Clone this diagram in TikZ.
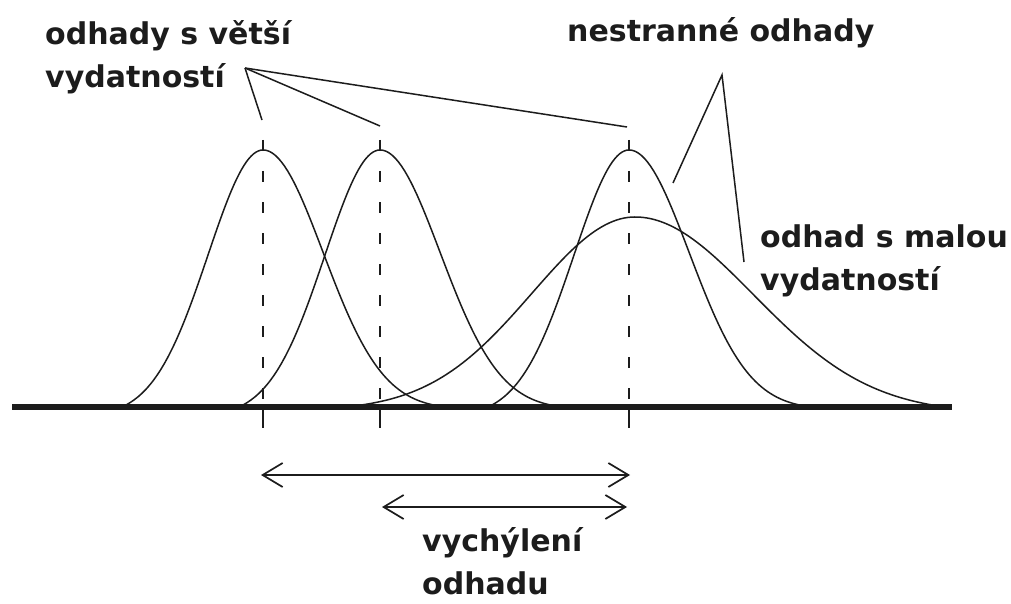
\documentclass[tikz,border=0pt]{standalone}
\usepackage{fontspec}
\setmainfont{DejaVu Sans}
\usetikzlibrary{arrows.meta}
\definecolor{inkgray}{RGB}{28,28,28}

\tikzset{
  lbltext/.style={font=\bfseries\fontsize{30}{43}\selectfont, text=inkgray, align=left, anchor=base west, inner sep=0pt},
  curveline/.style={inkgray, line width=1.5pt},
  guideline/.style={inkgray, line width=1.4pt, dash pattern=on 11pt off 20pt},
  leaderline/.style={inkgray, line width=1.5pt},
  spanarrow/.style={inkgray, line width=1.7pt, {Straight Barb[length=20pt,width=24pt]}-{Straight Barb[length=20pt,width=24pt]}},
}

\begin{document}
\begin{tikzpicture}[x=1pt, y=-1pt,
    declare function={bump(\t,\a)=(exp(-0.5*(\t)^2)-exp(-0.5*(\a)^2))/(1-exp(-0.5*(\a)^2));}]
    \fill[white] (0,0) rectangle (1011,604);
    \useasboundingbox (0,0) rectangle (1011,604);

    % Narrow estimators and guide lines
    \foreach \c in {263,380,629} {
        \draw[curveline] plot[domain=-141:0, samples=60] ({\c+\x}, {407-257*bump(\x/55,141/55)})
            -- plot[domain=0:182, samples=60] ({\c+\x}, {407-257*bump(\x/60,182/60)});
        \draw[guideline] (\c,140) -- (\c,407);
        \draw[curveline] (\c,407) -- (\c,428);
    }

    % Wide estimator
    \draw[curveline] plot[domain=-290:0, samples=80] ({635+\x}, {407-190*bump(\x/103,290/103)})
        -- plot[domain=0:310, samples=80] ({635+\x}, {407-190*bump(\x/118,310/118)});

    % Axis
    \draw[inkgray, line width=6pt] (12,407) -- (952,407);

    % Labels
    \node[lbltext] (effhigh) at (45,88) {odhady s větší\\vydatností};
    \node[lbltext] (unbiased) at (567,42) {nestranné odhady};
    \node[lbltext] (efflow) at (760,290) {odhad s malou\\vydatností};
    \node[lbltext] (bias) at (422,594) {vychýlení\\odhadu};

    % Leader lines
    \coordinate (effapex) at (245,68);
    \coordinate (peakA) at (262,120);
    \coordinate (peakB) at (380,126);
    \coordinate (peakC) at (627,127);
    \coordinate (unbapex) at (722,75);
    \coordinate (narrowC) at (673,183);
    \coordinate (wideC) at (744,262);
    \foreach \p in {peakA,peakB,peakC}
        \draw[leaderline] (effapex) -- (\p);
    \draw[leaderline] (narrowC) -- (unbapex) -- (wideC);

    % Bias spans
    \coordinate (spanAl) at (261,475);
    \coordinate (spanAr) at (630,475);
    \coordinate (spanBl) at (382,507);
    \coordinate (spanBr) at (627,507);
    \draw[spanarrow] (spanAl) -- (spanAr);
    \draw[spanarrow] (spanBl) -- (spanBr);
\end{tikzpicture}
\end{document}
